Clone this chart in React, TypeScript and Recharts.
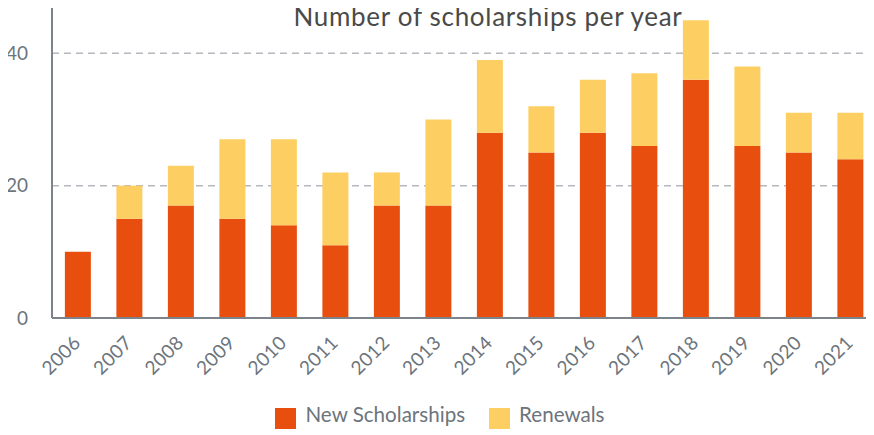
import React from "react";
import { BarChart, Bar, XAxis, YAxis, CartesianGrid, Legend } from "recharts";

const years = ["2006", "2007", "2008", "2009", "2010", "2011", "2012", "2013", "2014", "2015", "2016", "2017", "2018", "2019", "2020", "2021"];
const newScholarships = [10, 15, 17, 15, 14, 11, 17, 17, 28, 25, 28, 26, 36, 26, 25, 24];
const renewals = [0, 5, 6, 12, 13, 11, 5, 13, 11, 7, 8, 11, 9, 12, 6, 7];
const yTicks = [0, 20, 40];

const data = years.map((year, i) => ({
  year,
  newScholarships: newScholarships[i],
  renewals: renewals[i],
}));

const FONT = "Lato, 'Noto Sans', sans-serif";
const GREY = "#6c747c";

const XTick = ({ x, y, payload }: any) => (
  <g transform={`translate(${x + 4},${y + 26})`}>
    <text textAnchor="end" transform="rotate(-45)" fill={GREY} fontSize={19} fontFamily={FONT} letterSpacing={0.3}>
      {payload.value}
    </text>
  </g>
);

const legendText = (value: string, _entry: any, index: number) => (
  <span
    style={{
      color: GREY,
      fontSize: 20.6,
      fontFamily: FONT,
      marginLeft: 5,
      marginRight: index === 0 ? 14 : 0,
    }}
  >
    {value}
  </span>
);

const App: React.FC = () => {
  return (
    <div style={{ position: "relative", width: 880, height: 435, marginLeft: -8, marginTop: -8 }}>
      <div
        style={{
          position: "absolute",
          top: 1,
          left: 488,
          transform: "translateX(-50%)",
          whiteSpace: "nowrap",
          fontFamily: FONT,
          fontSize: 26,
          letterSpacing: 0.7,
          lineHeight: "30px",
          color: "#4a4a4a",
          zIndex: 2,
        }}
      >
        Number of scholarships per year
      </div>
      <BarChart
        width={880}
        height={435}
        data={data}
        margin={{ top: 3, right: 4, left: 0, bottom: 2 }}
        barCategoryGap="25%"
      >
        <CartesianGrid vertical={false} stroke="#b5b8bd" strokeDasharray="7 5" strokeWidth={1.5} />
        <XAxis
          dataKey="year"
          height={84}
          interval={0}
          tickLine={false}
          tickSize={0}
          tickMargin={0}
          tick={<XTick />}
          axisLine={{ stroke: "#7d838a", strokeWidth: 2 }}
        />
        <YAxis
          width={52}
          domain={[0, 47.6]}
          ticks={yTicks}
          tickLine={false}
          tickSize={0}
          tickMargin={24}
          axisLine={{ stroke: "#7d838a", strokeWidth: 2 }}
          tick={{ fill: GREY, fontSize: 19, fontFamily: FONT }}
        />
        <Legend
          verticalAlign="bottom"
          align="center"
          iconType="square"
          iconSize={21}
          formatter={legendText}
          wrapperStyle={{ height: 31, left: 7 }}
        />
        <Bar dataKey="newScholarships" name="New Scholarships" stackId="a" fill="#e84f0f" isAnimationActive={false} />
        <Bar dataKey="renewals" name="Renewals" stackId="a" fill="#fdcf62" isAnimationActive={false} />
      </BarChart>
    </div>
  );
};

export default App;
